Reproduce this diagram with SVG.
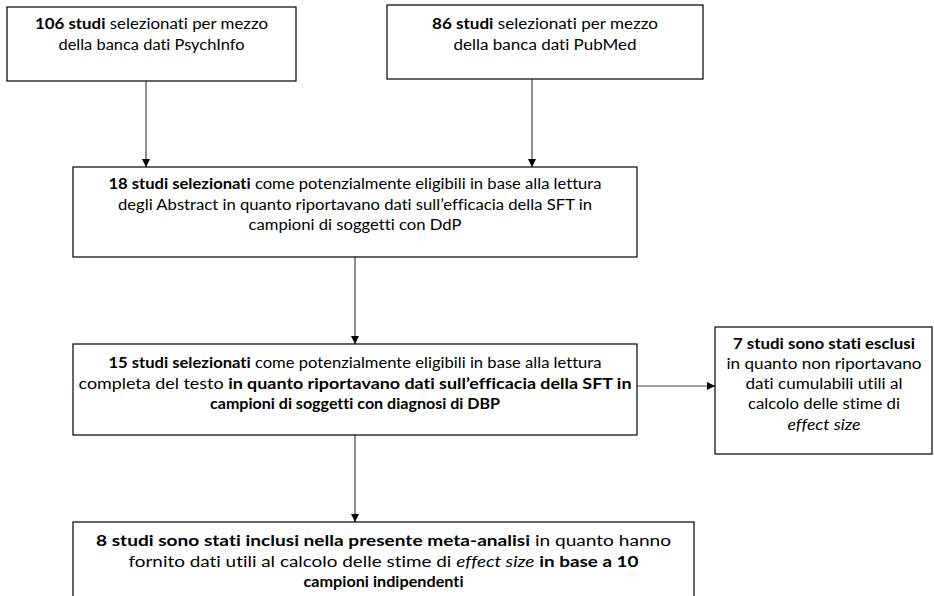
<svg xmlns="http://www.w3.org/2000/svg" width="934" height="596" viewBox="0 0 934 596">
<defs>
<style>
.box{fill:#fff;stroke:#000;stroke-width:1.2}
.t{font-family:Lato,"Open Sans","Liberation Sans",sans-serif;font-size:15.5px;fill:#000;text-anchor:middle;font-variant-ligatures:none}
.b{font-weight:bold}
.i{font-style:italic}
.c{stroke:#444;stroke-width:1.2;fill:none}
</style>
<marker id="ah" viewBox="0 0 10 10" refX="10" refY="5" markerWidth="9" markerHeight="8" markerUnits="userSpaceOnUse" orient="auto">
<path d="M0,0 L10,5 L0,10 z" fill="#000"/>
</marker>
</defs>
<rect width="934" height="596" fill="#fff"/>
<g id="connectors">
<line class="c" x1="146" y1="81" x2="146" y2="167" marker-end="url(#ah)"/>
<line class="c" x1="532" y1="79" x2="532" y2="167" marker-end="url(#ah)"/>
<line class="c" x1="355" y1="257" x2="355" y2="344" marker-end="url(#ah)"/>
<line class="c" x1="355" y1="435" x2="355" y2="522" marker-end="url(#ah)"/>
<line class="c" x1="637" y1="386" x2="715" y2="386" marker-end="url(#ah)"/>
</g>
<g id="n1">
<rect class="box" x="7" y="7" width="289" height="74"/>
<text class="t" x="151.5" y="29" textLength="233" lengthAdjust="spacingAndGlyphs"><tspan class="b">106 studi</tspan> selezionati per mezzo</text>
<text class="t" x="151.5" y="50" textLength="186" lengthAdjust="spacingAndGlyphs">della banca dati PsychInfo</text>
</g>
<g id="n2">
<rect class="box" x="387" y="5" width="316" height="74"/>
<text class="t" x="545" y="29" textLength="226" lengthAdjust="spacingAndGlyphs"><tspan class="b">86 studi</tspan> selezionati per mezzo</text>
<text class="t" x="545" y="50" textLength="183" lengthAdjust="spacingAndGlyphs">della banca dati PubMed</text>
</g>
<g id="n3">
<rect class="box" x="73" y="167" width="564" height="90"/>
<text class="t" x="355" y="189" textLength="493" lengthAdjust="spacingAndGlyphs"><tspan class="b">18 studi selezionati</tspan> come potenzialmente eligibili in base alla lettura</text>
<text class="t" x="355" y="210" textLength="474" lengthAdjust="spacingAndGlyphs">degli Abstract in quanto riportavano dati sull’efficacia della SFT in</text>
<text class="t" x="355" y="230" textLength="213" lengthAdjust="spacingAndGlyphs">campioni di soggetti con DdP</text>
</g>
<g id="n4">
<rect class="box" x="73" y="344" width="564" height="91"/>
<text class="t" x="355" y="368" textLength="493" lengthAdjust="spacingAndGlyphs"><tspan class="b">15 studi selezionati</tspan> come potenzialmente eligibili in base alla lettura</text>
<text class="t" x="355" y="389" textLength="553" lengthAdjust="spacingAndGlyphs">completa del testo <tspan class="b">in quanto riportavano dati sull’efficacia della SFT in</tspan></text>
<text class="t b" x="355" y="409" textLength="290" lengthAdjust="spacingAndGlyphs">campioni di soggetti con diagnosi di DBP</text>
</g>
<g id="n5">
<rect class="box" x="715" y="327" width="217" height="127"/>
<text class="t b" x="824" y="349" textLength="182" lengthAdjust="spacingAndGlyphs">7 studi sono stati esclusi</text>
<text class="t" x="824" y="369" textLength="195" lengthAdjust="spacingAndGlyphs">in quanto non riportavano</text>
<text class="t" x="824" y="389" textLength="157" lengthAdjust="spacingAndGlyphs">dati cumulabili utili al</text>
<text class="t" x="824" y="409" textLength="152" lengthAdjust="spacingAndGlyphs">calcolo delle stime di</text>
<text class="t i" x="824" y="430" textLength="73" lengthAdjust="spacingAndGlyphs">effect size</text>
</g>
<g id="n6">
<rect class="box" x="73" y="522" width="621" height="100"/>
<text class="t" x="383.5" y="546" textLength="575" lengthAdjust="spacingAndGlyphs"><tspan class="b">8 studi sono stati inclusi nella presente meta-analisi</tspan> in quanto hanno</text>
<text class="t" x="383.5" y="567" textLength="510" lengthAdjust="spacingAndGlyphs">fornito dati utili al calcolo delle stime di <tspan class="i">effect size</tspan> <tspan class="b">in base a 10</tspan></text>
<text class="t b" x="383.5" y="587" textLength="160" lengthAdjust="spacingAndGlyphs">campioni indipendenti</text>
</g>
</svg>
